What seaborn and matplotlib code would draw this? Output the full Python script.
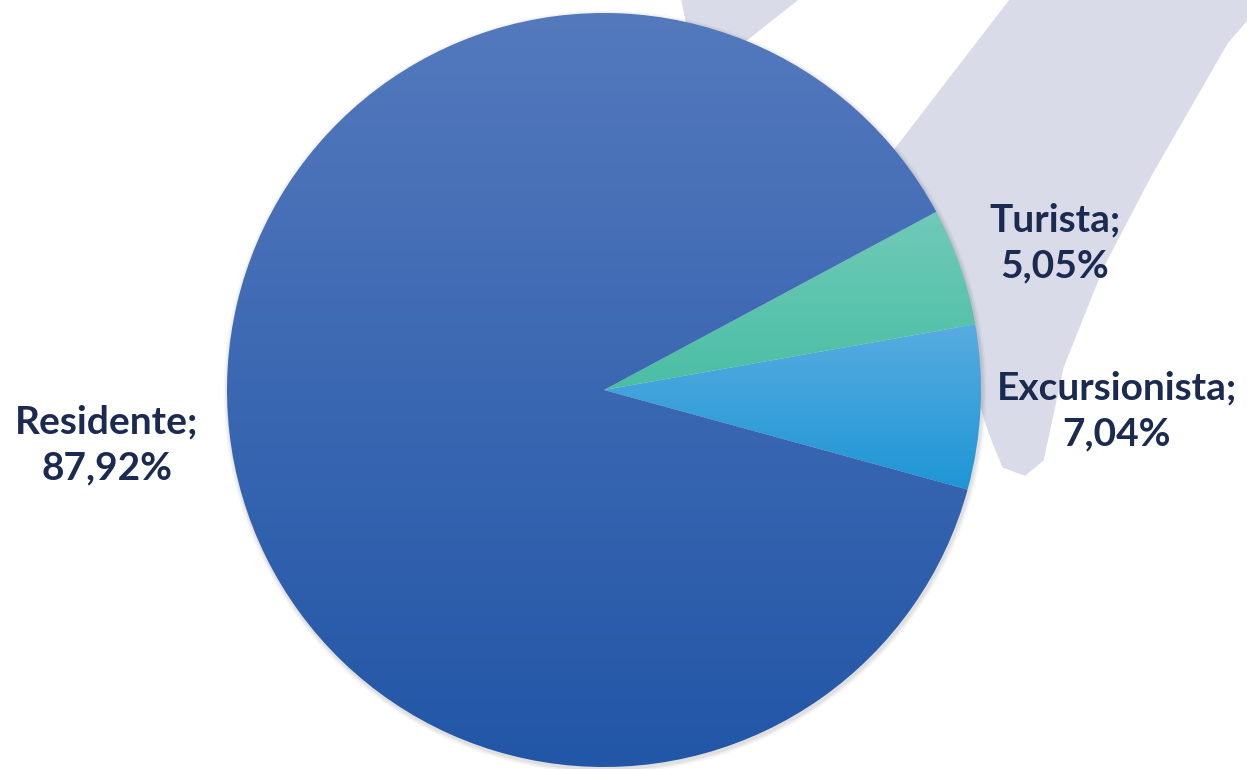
import numpy as np
import seaborn as sns
import matplotlib.pyplot as plt
from matplotlib.colors import LinearSegmentedColormap
from matplotlib.patches import Polygon

# datos del gráfico
categorias = ['Excursionista', 'Turista', 'Residente']
porcentajes = [7.04, 5.05, 87.92]
etiquetas = ['Excursionista;\n7,04%', 'Turista;\n5,05%', 'Residente;\n87,92%']
colores_sup = ['#58ACE0', '#70CAB8', '#5479BD']
colores_inf = ['#1E96D5', '#4ABEA4', '#2256A7']

sns.set_theme(style='white')
plt.rcParams['font.family'] = ['Lato', 'DejaVu Sans']

fig = plt.figure(figsize=(12.47, 7.69), dpi=100)
ax = fig.add_axes([0, 0, 1, 1])

# marca de agua de fondo (forma gris clara)
fondo = '#D9DBE8'
banda = [(1010, 769), (933, 669), (877, 596), (880, 500), (960, 449), (975, 383),
         (985, 349), (992, 329), (1003, 302), (1025, 294), (1043, 309), (1063, 402),
         (1103, 502), (1150, 592), (1227, 726), (1247, 749), (1247, 769)]
ax.add_patch(Polygon(banda, closed=True, color=fondo, zorder=0))
ax.add_patch(Polygon([(682, 769), (797, 769), (740, 724), (690, 729)],
                     closed=True, color=fondo, zorder=0))

cx, cy, r = 604, 379, 377
wedges, _ = ax.pie(porcentajes, startangle=-15.3, counterclock=True,
                   center=(cx, cy), radius=r, frame=True,
                   wedgeprops=dict(linewidth=0))

# sombra suave
for i, a in enumerate([0.05, 0.04, 0.03]):
    ax.add_patch(plt.Circle((cx + 1, cy - 2), r + 1.5 + i * 1.5, color='black',
                            alpha=a, zorder=0.5, linewidth=0))

# degradado vertical por porción
for w, c1, c2 in zip(wedges, colores_sup, colores_inf):
    w.set_zorder(1)
    bb = w.get_path().get_extents(w.get_transform() - ax.transData)
    cmap = LinearSegmentedColormap.from_list('g', [c2, c1])
    grad = np.linspace(0, 1, 256).reshape(-1, 1)
    im = ax.imshow(grad, cmap=cmap, origin='lower', aspect='auto',
                   extent=[bb.x0, bb.x1, bb.y0, bb.y1], zorder=2)
    im.set_clip_path(w)
    w.set_facecolor('none')

ax.set_xlim(0, 1247)
ax.set_ylim(0, 769)
ax.set_aspect('equal')
ax.axis('off')

color_texto = '#1B2A50'
posiciones = [(1117, 358), (1055, 526), (107, 324)]
for (x, y), txt in zip(posiciones, etiquetas):
    ax.text(x, y, txt, ha='center', va='center', fontsize=28, fontweight='bold',
            color=color_texto, linespacing=1.4, zorder=5)

plt.savefig('out.png', dpi=100)
